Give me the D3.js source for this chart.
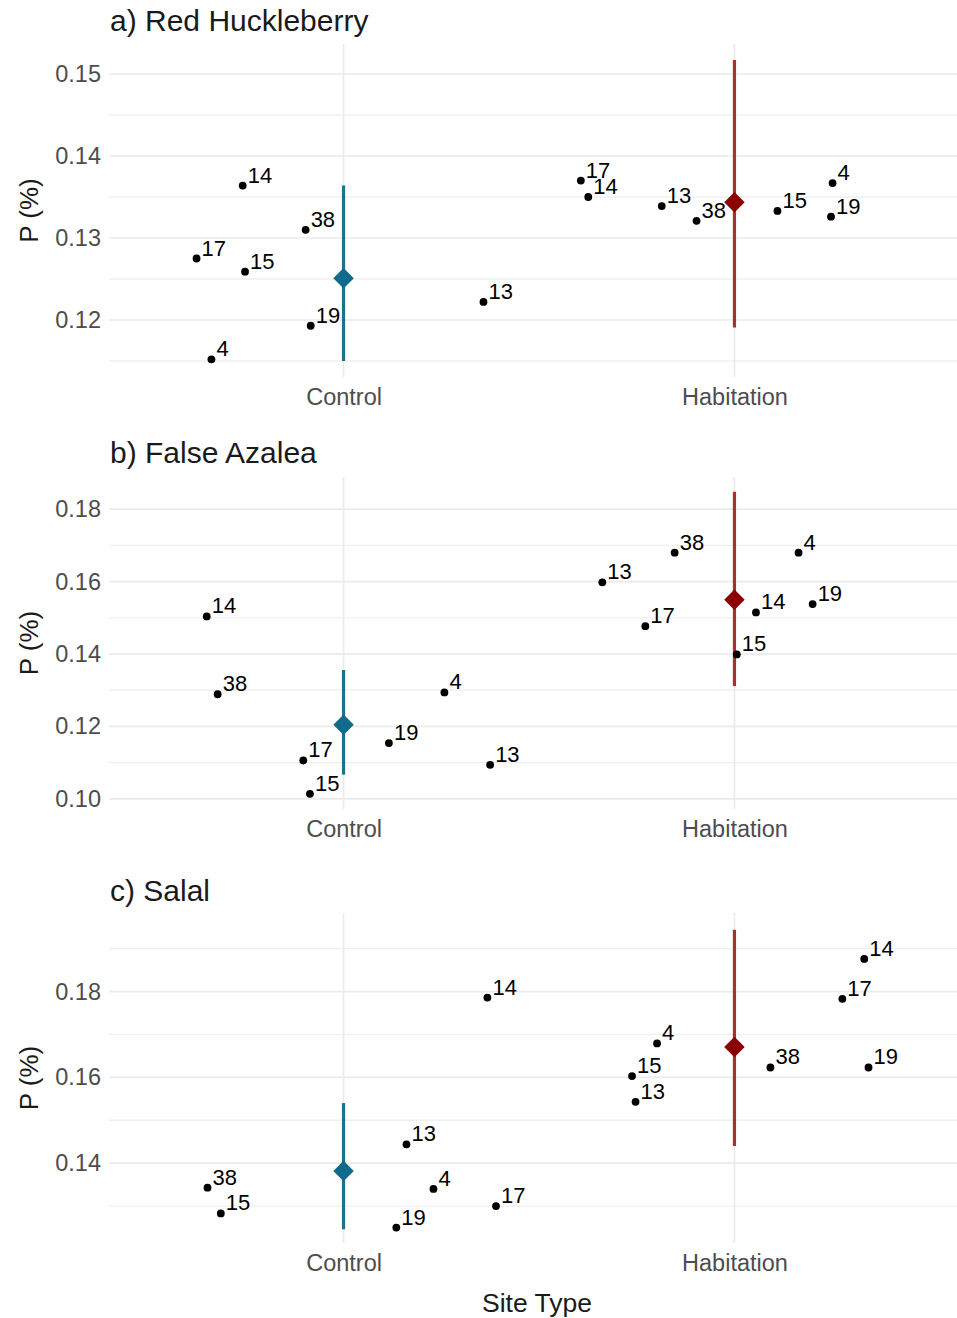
<!DOCTYPE html>
<html>
<head>
<meta charset="utf-8">
<script src="https://cdn.jsdelivr.net/npm/d3@7"></script>
<style>
  html, body { margin: 0; padding: 0; background: #ffffff; }
  svg { display: block; font-family: "Liberation Sans", Arial, sans-serif; }
</style>
</head>
<body>
<svg id="chart" width="957" height="1318"></svg>
<script>
// ---------------- DATA ----------------
const siteTypes = ["Control", "Habitation"];
const panelTitles = ["a) Red Huckleberry", "b) False Azalea", "c) Salal"];
const yAxisTitle = "P (%)";
const xAxisTitle = "Site Type";

const yTicksA = [0.12, 0.13, 0.14, 0.15];
const yTicksB = [0.10, 0.12, 0.14, 0.16, 0.18];
const yTicksC = [0.14, 0.16, 0.18];
const yMinorA = [0.115, 0.125, 0.135, 0.145];
const yMinorB = [0.11, 0.13, 0.15, 0.17];
const yMinorC = [0.13, 0.15, 0.17, 0.19];
const yDomainA = [0.11305, 0.15366];
const yDomainB = [0.0972, 0.1889];
const yDomainC = [0.1214, 0.1983];

// site points: [site label, site type, P value, horizontal jitter (category units)]
const sitesA = [
  ["14", "Control", 0.1364, -0.258], ["38", "Control", 0.1310, -0.097],
  ["17", "Control", 0.1275, -0.376], ["15", "Control", 0.1259, -0.252],
  ["19", "Control", 0.1193, -0.084], ["4", "Control", 0.1152, -0.338],
  ["13", "Control", 0.1222, 0.358],
  ["17", "Habitation", 0.1370, -0.393], ["14", "Habitation", 0.1350, -0.374],
  ["13", "Habitation", 0.1339, -0.186], ["38", "Habitation", 0.1321, -0.097],
  ["15", "Habitation", 0.1333, 0.110], ["4", "Habitation", 0.1367, 0.251],
  ["19", "Habitation", 0.1326, 0.247]
];
const sitesB = [
  ["14", "Control", 0.1504, -0.350], ["38", "Control", 0.1289, -0.322],
  ["17", "Control", 0.1106, -0.103], ["15", "Control", 0.1014, -0.086],
  ["19", "Control", 0.1154, 0.116], ["4", "Control", 0.1294, 0.258],
  ["13", "Control", 0.1094, 0.375],
  ["38", "Habitation", 0.1680, -0.153], ["4", "Habitation", 0.1680, 0.164],
  ["13", "Habitation", 0.1598, -0.338], ["14", "Habitation", 0.1515, 0.055],
  ["19", "Habitation", 0.1538, 0.200], ["17", "Habitation", 0.1477, -0.228],
  ["15", "Habitation", 0.1399, 0.006]
];
const sitesC = [
  ["38", "Control", 0.1343, -0.348], ["15", "Control", 0.1283, -0.314],
  ["13", "Control", 0.1444, 0.161], ["4", "Control", 0.1340, 0.230],
  ["19", "Control", 0.1250, 0.135], ["14", "Control", 0.1786, 0.368],
  ["17", "Control", 0.1300, 0.390],
  ["14", "Habitation", 0.1876, 0.332], ["17", "Habitation", 0.1783, 0.276],
  ["4", "Habitation", 0.1679, -0.198], ["15", "Habitation", 0.1603, -0.262],
  ["13", "Habitation", 0.1543, -0.253], ["38", "Habitation", 0.1623, 0.092],
  ["19", "Habitation", 0.1623, 0.343]
];

// group means with interval: [site type, mean, low, high]
const meansA = [["Control", 0.1251, 0.1150, 0.1364], ["Habitation", 0.13435, 0.1191, 0.1517]];
const meansB = [["Control", 0.1205, 0.1067, 0.1356], ["Habitation", 0.1550, 0.1312, 0.1848]];
const meansC = [["Control", 0.1382, 0.1246, 0.1540], ["Habitation", 0.1671, 0.1440, 0.1944]];

// ---------------- LAYOUT / STYLE ----------------
const colors = { Control: "#0f6a8c", Habitation: "#8b0000" };
const lineColors = { Control: "#1f7190", Habitation: "#a83030" };
const plotLeft = 109, plotRight = 969;

const panels = [
  { title: panelTitles[0], ticks: yTicksA, minor: yMinorA, domain: yDomainA, sites: sitesA, means: meansA, top: 44, bottom: 377, titleY: 31 },
  { title: panelTitles[1], ticks: yTicksB, minor: yMinorB, domain: yDomainB, sites: sitesB, means: meansB, top: 477, bottom: 809, titleY: 463 },
  { title: panelTitles[2], ticks: yTicksC, minor: yMinorC, domain: yDomainC, sites: sitesC, means: meansC, top: 913, bottom: 1243, titleY: 901 }
];

const svg = d3.select("#chart");
const x = d3.scaleLinear().domain([0.4, 2.6]).range([plotLeft, plotRight]);
const xIndex = t => siteTypes.indexOf(t) + 1;

panels.forEach(p => {
  const y = d3.scaleLinear().domain(p.domain).range([p.bottom, p.top]);
  const g = svg.append("g");

  // minor grid
  g.selectAll(".minor").data(p.minor).join("line")
    .attr("x1", plotLeft).attr("x2", plotRight)
    .attr("y1", d => y(d)).attr("y2", d => y(d))
    .attr("stroke", "#f0f0f0").attr("stroke-width", 1.3);
  // major grid
  g.selectAll(".major").data(p.ticks).join("line")
    .attr("x1", plotLeft).attr("x2", plotRight)
    .attr("y1", d => y(d)).attr("y2", d => y(d))
    .attr("stroke", "#ebebeb").attr("stroke-width", 1.7);
  // vertical major grid at categories
  g.selectAll(".vgrid").data(siteTypes).join("line")
    .attr("x1", d => x(xIndex(d))).attr("x2", d => x(xIndex(d)))
    .attr("y1", p.top).attr("y2", p.bottom)
    .attr("stroke", "#ebebeb").attr("stroke-width", 1.7);

  // y axis
  const yAxis = d3.axisLeft(y).tickValues(p.ticks).tickSize(0).tickPadding(0)
    .tickFormat(d3.format(".2f"));
  const ya = g.append("g").attr("transform", `translate(${plotLeft - 8},0)`).call(yAxis);
  ya.select(".domain").remove();
  ya.selectAll("text").attr("font-size", 23.5).attr("fill", "#4d4d4d")
    .attr("font-family", "Liberation Sans, Arial, sans-serif");

  // x axis
  const xAxis = d3.axisBottom(x).tickValues([1, 2]).tickSize(0).tickPadding(0)
    .tickFormat(d => siteTypes[d - 1]);
  const xa = g.append("g").attr("transform", `translate(0,${p.bottom})`).call(xAxis);
  xa.select(".domain").remove();
  xa.selectAll("text").attr("font-size", 23.5).attr("fill", "#4d4d4d")
    .attr("dy", null).attr("y", 28)
    .attr("font-family", "Liberation Sans, Arial, sans-serif");

  // title
  g.append("text").attr("x", 110).attr("y", p.titleY).text(p.title)
    .attr("font-size", 30).attr("fill", "#1a1a1a");

  // y axis title
  g.append("text")
    .attr("transform", `translate(38,${(p.top + p.bottom) / 2}) rotate(-90)`)
    .attr("text-anchor", "middle").attr("font-size", 26).attr("fill", "#1a1a1a")
    .text(yAxisTitle);

  // error bars
  g.selectAll(".err").data(p.means).join("line")
    .attr("x1", d => x(xIndex(d[0]))).attr("x2", d => x(xIndex(d[0])))
    .attr("y1", d => y(d[2])).attr("y2", d => y(d[3]))
    .attr("stroke", d => lineColors[d[0]]).attr("stroke-width", 3.2);

  // mean diamonds
  g.selectAll(".mean").data(p.means).join("path")
    .attr("d", d3.symbol(d3.symbolSquare, 210)())
    .attr("transform", d => `translate(${x(xIndex(d[0]))},${y(d[1])}) rotate(45)`)
    .attr("fill", d => colors[d[0]]);

  // site points
  g.selectAll(".pt").data(p.sites).join("circle")
    .attr("cx", d => x(xIndex(d[1]) + d[3])).attr("cy", d => y(d[2]))
    .attr("r", 3.9).attr("fill", "#000");

  // site labels
  g.selectAll(".lbl").data(p.sites).join("text")
    .attr("x", d => x(xIndex(d[1]) + d[3]) + 5).attr("y", d => y(d[2]) - 3)
    .attr("font-size", 22).attr("fill", "#000")
    .text(d => d[0]);
});

// x axis title
svg.append("text").attr("x", 537).attr("y", 1312).attr("text-anchor", "middle")
  .attr("font-size", 26.5).attr("fill", "#1a1a1a").text(xAxisTitle);
</script>
</body>
</html>
